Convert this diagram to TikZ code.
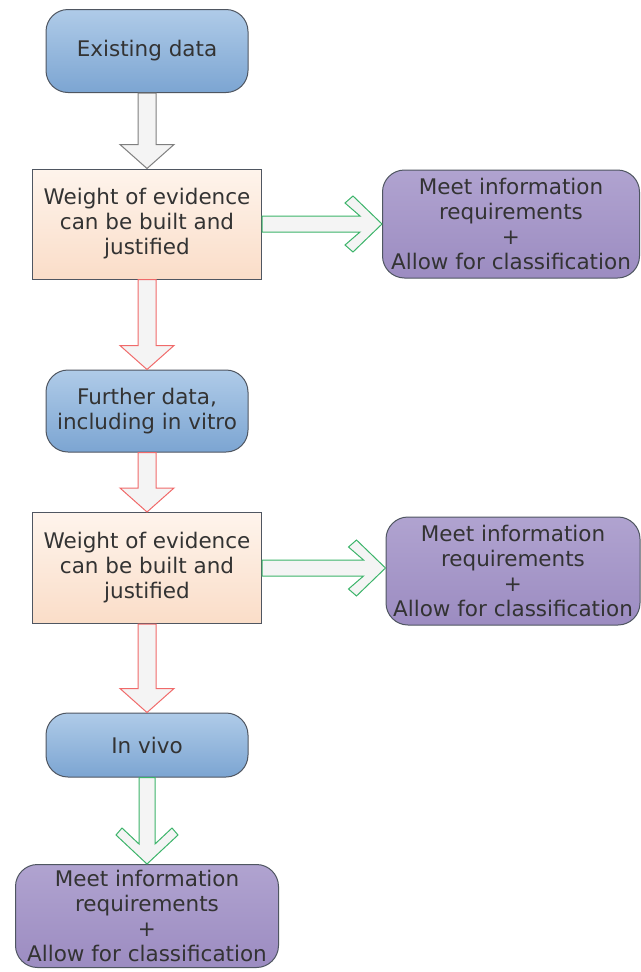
\documentclass[tikz,border=0pt]{standalone}
\usepackage{fontspec}
\setmainfont{DejaVu Sans}
\usepackage{tikz}
\usetikzlibrary{calc}

\definecolor{startTop}{HTML}{AFCBE8}
\definecolor{startBot}{HTML}{7CA5D2}
\definecolor{woeTop}{HTML}{FEF4EC}
\definecolor{woeBot}{HTML}{FADDC8}
\definecolor{meetTop}{HTML}{B0A3D0}
\definecolor{meetBot}{HTML}{9C8CC1}
\definecolor{edgeGray}{HTML}{4F5661}
\definecolor{arrGray}{HTML}{7F7F7F}
\definecolor{arrRed}{HTML}{F06A6A}
\definecolor{arrGreen}{HTML}{3CB46A}
\definecolor{arrFill}{HTML}{F4F4F4}
\definecolor{txt}{HTML}{333333}

\tikzset{
  databox/.style={draw=edgeGray, line width=1pt, rounded corners=22pt,
    top color=startTop, bottom color=startBot, text=txt, align=center,
    minimum width=202pt, font=\fontsize{21.5}{25}\selectfont},
  woebox/.style={draw=edgeGray, line width=1pt,
    top color=woeTop, bottom color=woeBot, text=txt, align=center,
    minimum width=229pt, minimum height=110pt, font=\fontsize{21.5}{25}\selectfont},
  meetbox/.style={draw=edgeGray, line width=1pt, rounded corners=22pt,
    top color=meetTop, bottom color=meetBot, text=txt, align=center,
    inner xsep=1pt, minimum height=108pt, font=\fontsize{21.5}{25}\selectfont},
  flow/.style={line width=1pt, fill=arrFill, line join=miter},
}

\begin{document}
\begin{tikzpicture}[x=1pt, y=-1pt]
\newcommand{\Sw}{9}; % half shaft width
\newcommand{\Hw}{27}; % half head width
\newcommand{\Hl}{24}; % head length

% down block arrow from #1 to #2, colour #3
\newcommand{\flowdown}[3]{%
  \draw[flow, draw=#3]
    ($(#1.south)+(-\Sw,0)$) -- ($(#2.north)+(-\Sw,-\Hl)$)
    -- ($(#2.north)+(-\Hw,-\Hl)$) -- (#2.north)
    -- ($(#2.north)+(\Hw,-\Hl)$) -- ($(#2.north)+(\Sw,-\Hl)$)
    -- ($(#1.south)+(\Sw,0)$) -- cycle;}
% down arrow with a chevron head
\newcommand{\flowdownV}[3]{%
  \draw[flow, draw=#3]
    ($(#1.south)+(-8,0)$) -- ($(#2.north)+(-8,-20)$)
    -- ($(#2.north)+(-25,-36)$) -- ($(#2.north)+(-31,-29)$) -- (#2.north)
    -- ($(#2.north)+(31,-29)$) -- ($(#2.north)+(25,-36)$)
    -- ($(#2.north)+(8,-20)$) -- ($(#1.south)+(8,0)$) -- cycle;}
% right arrow with a chevron head
\newcommand{\flowrightV}[3]{%
  \coordinate (tip) at (#2.west |- #1.east);
  \draw[flow, draw=#3]
    ($(#1.east)+(0,-8)$) -- ($(tip)+(-22,-8)$)
    -- ($(tip)+(-37,-21)$) -- ($(tip)+(-29,-28)$) -- (tip)
    -- ($(tip)+(-29,28)$) -- ($(tip)+(-37,21)$)
    -- ($(tip)+(-22,8)$) -- ($(#1.east)+(0,8)$) -- cycle;}

\useasboundingbox (0,0) rectangle (640,972);

% left column
\node[databox, minimum height=83pt] (exist) at (147,51) {Existing data};
\node[woebox] (woeA) at (147,224) {Weight of evidence\\can be built and\\justified};
\node[databox, minimum height=82pt] (further) at (147,411) {Further data,\\including in vitro};
\node[woebox, minimum height=111pt] (woeB) at (147,568) {Weight of evidence\\can be built and\\justified};
\node[databox, minimum height=64pt] (invivo) at (147,745) {In vivo};
\node[meetbox, minimum width=263pt, minimum height=103pt] (meetC) at (147,916)
  {Meet information\\requirements\\+\\Allow for classification};

% right column
\node[meetbox, minimum width=257pt] (meetA) at (511,224)
  {Meet information\\requirements\\+\\Allow for classification};
\node[meetbox, minimum width=254pt] (meetB) at (513,571)
  {Meet information\\requirements\\+\\Allow for classification};

% arrows
\flowdown{exist}{woeA}{arrGray}
\flowdown{woeA}{further}{arrRed}
\flowdown{further}{woeB}{arrRed}
\flowdown{woeB}{invivo}{arrRed}
\flowdownV{invivo}{meetC}{arrGreen}
\flowrightV{woeA}{meetA}{arrGreen}
\flowrightV{woeB}{meetB}{arrGreen}
\end{tikzpicture}
\end{document}
